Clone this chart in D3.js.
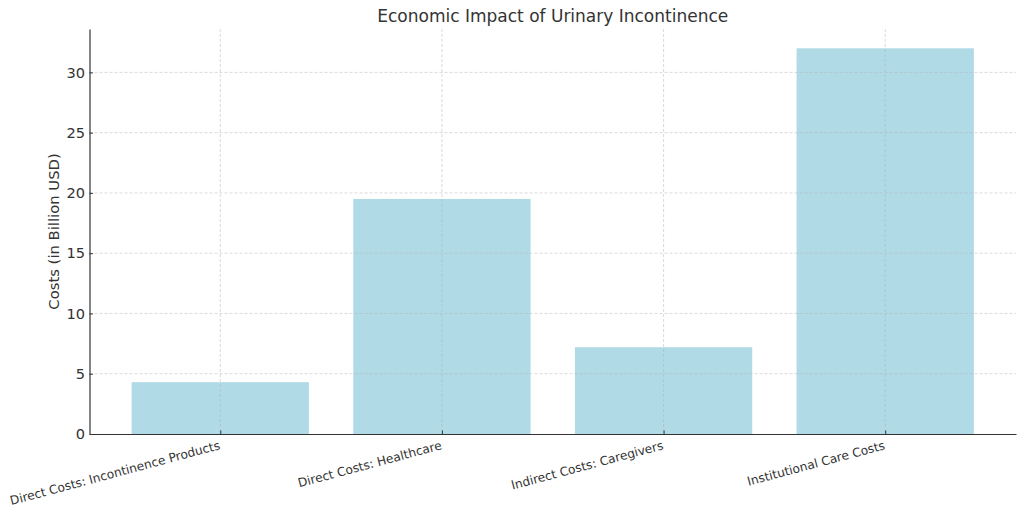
<!DOCTYPE html>
<html><head><meta charset="utf-8">
<script src="https://cdn.jsdelivr.net/npm/d3@7"></script>
<style>body{margin:0;background:#fff}svg{display:block}text{font-family:"DejaVu Sans",sans-serif}</style>
</head><body>
<svg id="c" width="1024" height="515"></svg>
<script>
const categories = ["Direct Costs: Incontinence Products","Direct Costs: Healthcare","Indirect Costs: Caregivers","Institutional Care Costs"];
const values = [4.3, 19.5, 7.2, 32];
const yTicks = [0,5,10,15,20,25,30];
const title = "Economic Impact of Urinary Incontinence";
const yLabel = "Costs (in Billion USD)";

const svg = d3.select("#c");
const L = 89.5, R = 1016, T = 29, B = 434;
const x = d3.scaleLinear().domain([-0.59, 3.59]).range([L, R]);
const y = d3.scaleLinear().domain([0, 33.6]).range([B, T]);
const bw = x(0.4) - x(-0.4);

// bars
svg.append("g").selectAll("rect").data(values).join("rect")
  .attr("x", (d,i)=>x(i)-bw/2).attr("width", bw)
  .attr("y", d=>y(d)).attr("height", d=>B-y(d))
  .attr("fill","#ADD8E6").attr("fill-opacity",0.95);

// grid
const g = svg.append("g").attr("stroke","#b0b0b0").attr("stroke-opacity",0.6).attr("stroke-dasharray","3,2").attr("stroke-width",0.8);
g.selectAll("line.h").data(yTicks.slice(1)).join("line").attr("class","h")
  .attr("x1",L).attr("x2",R).attr("y1",d=>y(d)).attr("y2",d=>y(d));
g.selectAll("line.v").data(categories).join("line").attr("class","v")
  .attr("x1",(d,i)=>x(i)).attr("x2",(d,i)=>x(i)).attr("y1",T).attr("y2",B);

// axes
const ya = d3.axisLeft(y).tickValues(yTicks).tickSizeInner(-3.5).tickSizeOuter(0).tickPadding(4.5);
const yg = svg.append("g").attr("transform",`translate(${L},0)`).call(ya);
yg.select(".domain").attr("stroke","#333").attr("stroke-width",1.2);
yg.selectAll(".tick line").attr("stroke","#333");
yg.selectAll(".tick text").attr("font-size",14.6).attr("fill","#333").attr("font-family","DejaVu Sans");

const xa = d3.axisBottom(x).tickValues(d3.range(categories.length)).tickFormat(i=>categories[i]).tickSizeInner(-3.5).tickSizeOuter(0);
const xg = svg.append("g").attr("transform",`translate(0,${B})`).call(xa);
xg.select(".domain").attr("stroke","#333").attr("stroke-width",1.2);
xg.selectAll(".tick line").attr("stroke","#333");
xg.selectAll(".tick text").attr("font-size",12.2).attr("fill","#333").attr("font-family","DejaVu Sans")
  .attr("text-anchor","end").attr("dy",null).attr("y",null)
  .attr("transform","translate(0,15) rotate(-15)");

svg.append("text").attr("x",(L+R)/2).attr("y",22).attr("text-anchor","middle")
  .attr("font-size",17).attr("fill","#333").text(title);
svg.append("text").attr("transform",`translate(59,${(T+B)/2}) rotate(-90)`).attr("text-anchor","middle")
  .attr("font-size",14.8).attr("fill","#333").text(yLabel);
</script>
</body></html>
